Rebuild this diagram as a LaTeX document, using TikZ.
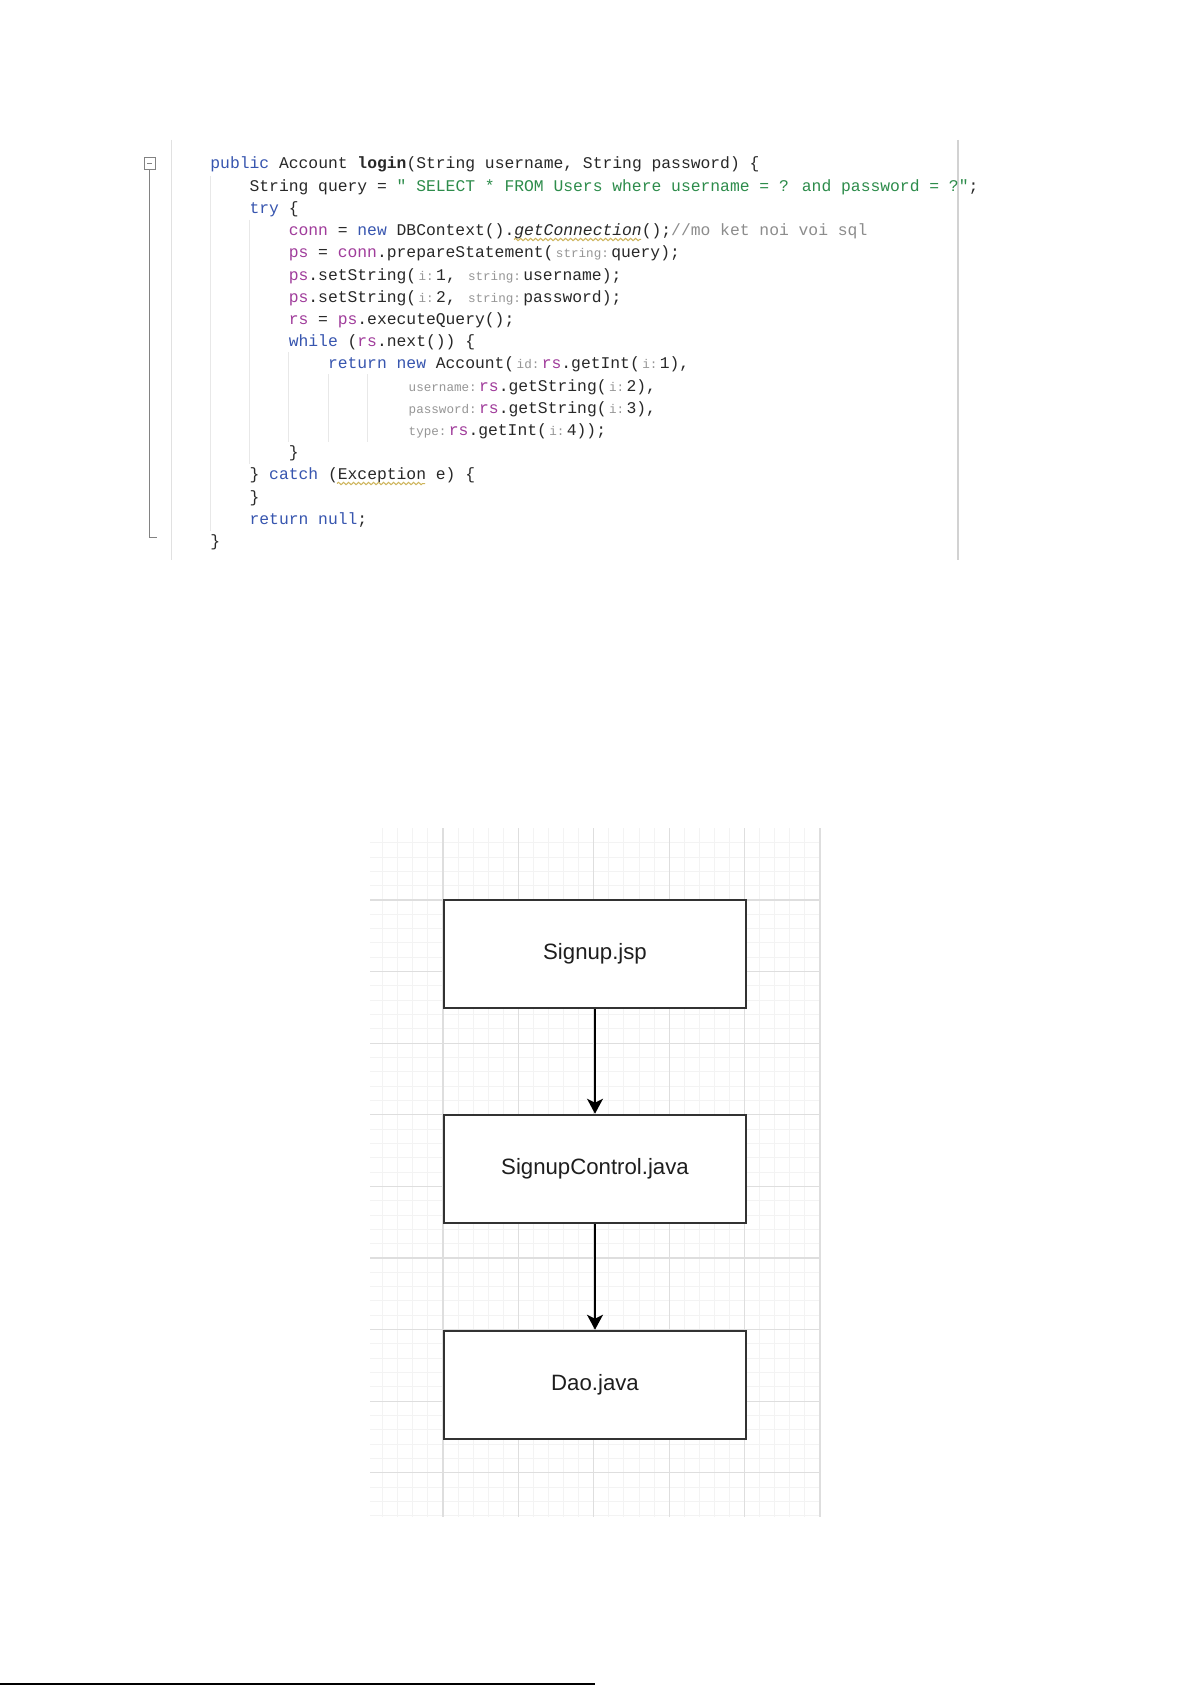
\documentclass[tikz,border=0pt]{standalone}
\usepackage{fontspec}
\setmainfont{Liberation Sans}
\newfontfamily\monofam{Liberation Mono}
\usetikzlibrary{arrows.meta,decorations.pathmorphing}
\definecolor{codetext}{RGB}{40,40,40}
\definecolor{kwblue}{RGB}{55,85,175}
\definecolor{strgreen}{RGB}{45,140,75}
\definecolor{fieldpurple}{RGB}{160,60,155}
\definecolor{commentgray}{RGB}{140,140,140}
\definecolor{hintgray}{RGB}{150,150,150}
\definecolor{wavycol}{RGB}{205,180,90}
\definecolor{guidecol}{RGB}{232,232,232}
\definecolor{gutcol}{RGB}{225,225,225}
\definecolor{margincol}{RGB}{210,210,210}
\definecolor{foldcol}{RGB}{130,130,130}
\definecolor{minorgrid}{RGB}{243,243,243}
\definecolor{majorgrid}{RGB}{222,222,222}
\definecolor{boxline}{RGB}{50,50,50}
\definecolor{labeltext}{RGB}{30,30,30}
\newcommand\kw[1]{\textcolor{kwblue}{#1}}
\newcommand\fld[1]{\textcolor{fieldpurple}{#1}}
\newcommand\strg[1]{\textcolor{strgreen}{#1}}
\newcommand\hnt[1]{\hspace{1.2pt}{\fontsize{6.3pt}{7pt}\selectfont\textcolor{hintgray}{#1}}\hspace{1.2pt}}
\tikzset{
  code/.style={anchor=base west,inner sep=0pt,font=\fontsize{8.17pt}{10pt}\monofam,text=codetext},
  guide/.style={draw=guidecol,line width=0.5pt},
  wavy/.style={draw=wavycol,line width=0.5pt,decorate,decoration={snake,segment length=2.5pt,amplitude=0.6pt}},
  minorline/.style={draw=minorgrid,line width=0.5pt},
  majorline/.style={draw=majorgrid,line width=0.6pt},
  box/.style={draw=boxline,line width=1.3pt,fill=white,minimum width=151pt,minimum height=54pt,inner sep=0pt,font=\fontsize{11.1pt}{13pt}\selectfont,text=labeltext},
  flow/.style={-{Stealth[length=7.5pt,width=8pt,inset=2pt]},line width=1pt,draw=black}
}
\begin{document}
\begin{tikzpicture}[x=0.5pt,y=-0.5pt]
\useasboundingbox[fill=white] (0,0) rectangle (1191,1685);

% ---------- code panel ----------
\draw[draw=gutcol,line width=0.5pt] (171,140) -- (171,560);
\draw[draw=margincol,line width=0.75pt] (958,140) -- (958,560);
% fold marker
\draw[draw=foldcol,line width=0.5pt,fill=white] (144,158) rectangle (155,170);
\draw[draw=foldcol,line width=0.5pt] (147,164) -- (152,164);
\draw[draw=foldcol,line width=0.5pt] (149.5,170) -- (149.5,537) -- (157,537);
% indent guides
\draw[guide] (210.5,176) -- (210.5,531);
\draw[guide] (249.7,220) -- (249.7,464);
\draw[guide] (288.9,352) -- (288.9,442);
\draw[guide] (328.1,374) -- (328.1,442);
\draw[guide] (367.3,374) -- (367.3,442);

\node[code] (l1) at (210,169) {\kw{public} Account {\bfseries login}(String username, String password) \{};
\node[code] (l2) at (249.2,191.2) {String query = \strg{" SELECT * FROM Users where username = ? and password = ?"};};
\node[code] (l3) at (249.2,213.4) {\kw{try} \{};
\node[code] (l4) at (288.4,235.6) {\fld{conn} = \kw{new} DBContext().{\itshape getConnection}();\textcolor{commentgray}{//mo ket noi voi sql}};
\node[code] (l5) at (288.4,257.8) {\fld{ps} = \fld{conn}.prepareStatement(\hnt{string:}query);};
\node[code] (l6) at (288.4,280) {\fld{ps}.setString(\hnt{i:}1, \hnt{string:}username);};
\node[code] (l7) at (288.4,302.2) {\fld{ps}.setString(\hnt{i:}2, \hnt{string:}password);};
\node[code] (l8) at (288.4,324.4) {\fld{rs} = \fld{ps}.executeQuery();};
\node[code] (l9) at (288.4,346.6) {\kw{while} (\fld{rs}.next()) \{};
\node[code] (l10) at (327.6,368.8) {\kw{return} \kw{new} Account(\hnt{id:}\fld{rs}.getInt(\hnt{i:}1),};
\node[code] (l11) at (405.9,391) {\hnt{username:}\fld{rs}.getString(\hnt{i:}2),};
\node[code] (l12) at (405.9,413.2) {\hnt{password:}\fld{rs}.getString(\hnt{i:}3),};
\node[code] (l13) at (405.9,435.4) {\hnt{type:}\fld{rs}.getInt(\hnt{i:}4));};
\node[code] (l14) at (288.4,457.6) {\}};
\node[code] (l15) at (249.2,479.8) {\} \kw{catch} (Exception e) \{};
\node[code] (l16) at (249.2,502) {\}};
\node[code] (l17) at (249.2,524.2) {\kw{return} \kw{null};};
\node[code] (l18) at (210,546.4) {\}};
% wavy underlines
\draw[wavy] (514,239.5) -- (641,239.5);
\draw[wavy] (337,483.5) -- (425,483.5);

% ---------- diagram grid ----------
\begin{scope}
\clip (370,828) rectangle (821,1517);
\foreach \i in {0,...,30} \draw[minorline] ({367.6+\i*15.08},828) -- ++(0,689);
\foreach \j in {1,...,48} \draw[minorline] (370,{828.4+\j*14.32}) -- ++(451,0);
\foreach \i in {1,...,6} \draw[majorline] ({367.6+\i*75.4},828) -- ++(0,689);
\foreach \j in {1,...,9} \draw[majorline] (370,{828.4+\j*71.6}) -- ++(451,0);
\end{scope}

% ---------- boxes ----------
\node[box] (b1) at (595,954) {Signup.jsp};
\node[box] (b2) at (595,1169) {SignupControl.java};
\node[box] (b3) at (595,1385) {Dao.java};
\draw[flow] (b1) -- (b2);
\draw[flow] (b2) -- (b3);

% bottom edge artefact
\draw[line width=1pt] (0,1683.5) -- (595,1683.5);
\end{tikzpicture}
\end{document}
